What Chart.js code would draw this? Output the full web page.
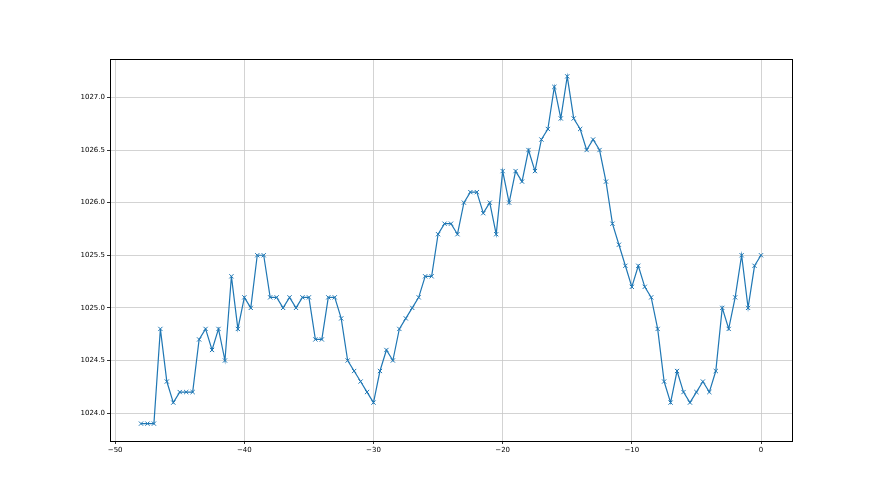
<!DOCTYPE html>
<html>
<head>
<meta charset="utf-8">
<script src="https://cdn.jsdelivr.net/npm/chart.js@4"></script>
<style>
  html, body { margin: 0; padding: 0; background: #fff; }
  #wrap { width: 880px; height: 495px; }
</style>
</head>
<body>
<div id="wrap"><canvas id="pressureChart" width="880" height="495"></canvas></div>
<script>
// hours before now, step 0.5
const hours = [
    -48, -47.5, -47, -46.5, -46, -45.5, -45, -44.5, -44, -43.5,
    -43, -42.5, -42, -41.5, -41, -40.5, -40, -39.5, -39, -38.5,
    -38, -37.5, -37, -36.5, -36, -35.5, -35, -34.5, -34, -33.5,
    -33, -32.5, -32, -31.5, -31, -30.5, -30, -29.5, -29, -28.5,
    -28, -27.5, -27, -26.5, -26, -25.5, -25, -24.5, -24, -23.5,
    -23, -22.5, -22, -21.5, -21, -20.5, -20, -19.5, -19, -18.5,
    -18, -17.5, -17, -16.5, -16, -15.5, -15, -14.5, -14, -13.5,
    -13, -12.5, -12, -11.5, -11, -10.5, -10, -9.5, -9, -8.5,
    -8, -7.5, -7, -6.5, -6, -5.5, -5, -4.5, -4, -3.5,
    -3, -2.5, -2, -1.5, -1, -0.5, 0
];

const pressure = [
    1023.9, 1023.9, 1023.9, 1024.8, 1024.3, 1024.1, 1024.2, 1024.2, 1024.2, 1024.7,
    1024.8, 1024.6, 1024.8, 1024.5, 1025.3, 1024.8, 1025.1, 1025.0, 1025.5, 1025.5,
    1025.1, 1025.1, 1025.0, 1025.1, 1025.0, 1025.1, 1025.1, 1024.7, 1024.7, 1025.1,
    1025.1, 1024.9, 1024.5, 1024.4, 1024.3, 1024.2, 1024.1, 1024.4, 1024.6, 1024.5,
    1024.8, 1024.9, 1025.0, 1025.1, 1025.3, 1025.3, 1025.7, 1025.8, 1025.8, 1025.7,
    1026.0, 1026.1, 1026.1, 1025.9, 1026.0, 1025.7, 1026.3, 1026.0, 1026.3, 1026.2,
    1026.5, 1026.3, 1026.6, 1026.7, 1027.1, 1026.8, 1027.2, 1026.8, 1026.7, 1026.5,
    1026.6, 1026.5, 1026.2, 1025.8, 1025.6, 1025.4, 1025.2, 1025.4, 1025.2, 1025.1,
    1024.8, 1024.3, 1024.1, 1024.4, 1024.2, 1024.1, 1024.2, 1024.3, 1024.2, 1024.4,
    1025.0, 1024.8, 1025.1, 1025.5, 1025.0, 1025.4, 1025.5
];

const xTicks = [-50, -40, -30, -20, -10, 0];
const yTicks = [1024.0, 1024.5, 1025.0, 1025.5, 1026.0, 1026.5, 1027.0];

const points = hours.map((h, i) => ({ x: h, y: pressure[i] }));

// full box around the plot area (matplotlib style spines)
const frame = {
    id: 'frame',
    afterDraw(chart) {
        const a = chart.chartArea;
        const c = chart.ctx;
        c.save();
        c.strokeStyle = '#000';
        c.lineWidth = 1;
        c.strokeRect(Math.round(a.left) + 0.5, Math.round(a.top) + 0.5,
            Math.round(a.right - a.left), Math.round(a.bottom - a.top));
        c.restore();
    }
};

const tickFont = { family: 'DejaVu Sans', size: 7 };

new Chart(document.getElementById('pressureChart'), {
    type: 'scatter',
    data: {
        datasets: [{
            data: points,
            showLine: true,
            borderColor: '#1f77b4',
            backgroundColor: '#1f77b4',
            borderWidth: 1.2,
            pointStyle: 'crossRot',
            pointRadius: 3,
            pointBorderWidth: 1,
            pointHoverRadius: 3,
            tension: 0
        }]
    },
    options: {
        responsive: false,
        animation: false,
        layout: { padding: { top: 59, right: 88, left: 0, bottom: 0 } },
        plugins: {
            legend: { display: false },
            tooltip: { enabled: false }
        },
        scales: {
            x: {
                type: 'linear',
                min: -50.4,
                max: 2.4,
                afterBuildTicks: s => { s.ticks = xTicks.map(v => ({ value: v })); },
                afterFit: s => { s.height = 54; },
                grid: { color: '#c8c8c8', lineWidth: 0.8, tickColor: '#000', tickLength: 3 },
                border: { display: false },
                ticks: {
                    color: '#000',
                    font: tickFont,
                    padding: 2,
                    maxRotation: 0,
                    callback: v => String(v).replace('-', '\u2212')
                }
            },
            y: {
                type: 'linear',
                min: 1023.735,
                max: 1027.365,
                afterBuildTicks: s => { s.ticks = yTicks.map(v => ({ value: v })); },
                afterFit: s => { s.width = 110; },
                grid: { color: '#c8c8c8', lineWidth: 0.8, tickColor: '#000', tickLength: 3 },
                border: { display: false },
                ticks: {
                    color: '#000',
                    font: tickFont,
                    padding: 2,
                    callback: v => Number(v).toFixed(1)
                }
            }
        }
    },
    plugins: [frame]
});
</script>
</body>
</html>
